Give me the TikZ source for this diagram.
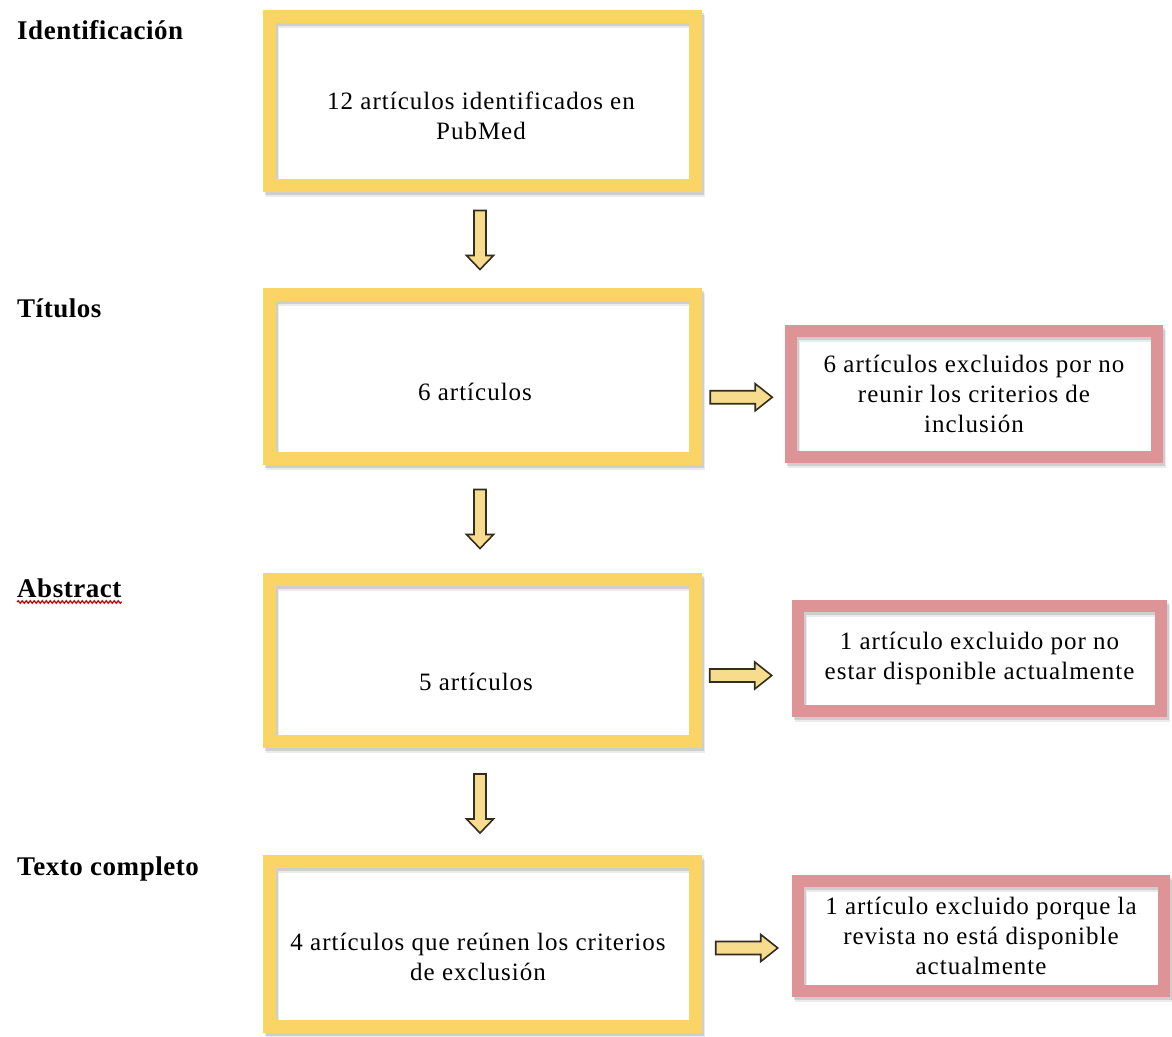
\documentclass[tikz,border=0pt]{standalone}
\usepackage{fontspec}
\setmainfont{Liberation Serif}
\newfontfamily\boxfont[LetterSpace=4]{Liberation Serif}
\newfontfamily\labfont[LetterSpace=2]{Liberation Serif}
\usetikzlibrary{calc,decorations.pathmorphing}
\definecolor{frameY}{RGB}{250,212,100}
\definecolor{frameP}{RGB}{222,148,150}
\definecolor{arrowY}{RGB}{246,220,140}
\definecolor{arrowK}{RGB}{50,45,35}
\tikzset{
 shadowed/.style={preaction={draw=black,draw opacity=0.08,line width=#1,transform canvas={shift={(3pt,-5pt)}}},
                  preaction={draw=black,draw opacity=0.12,line width=#1,transform canvas={shift={(1.5pt,-2.5pt)}}}},
 ybox/.style={draw=frameY,line width=13pt,shadowed=13pt,minimum width=426pt,inner sep=0pt,outer sep=0pt},
 pbox/.style={draw=frameP,line width=12pt,shadowed=12pt,inner sep=0pt,outer sep=0pt,font=\boxfont\fontsize{25}{30}\selectfont,align=center},
 btext/.style={font=\boxfont\fontsize{25}{30}\selectfont,align=center,inner sep=0pt},
 lab/.style={font=\labfont\bfseries\fontsize{27}{32}\selectfont,anchor=base west,inner sep=0pt},
 blockarr/.style={draw=arrowK,line width=1.6pt,fill=arrowY,line join=miter},
 wavy/.style={draw=red!80!black,line width=1.2pt,decorate,decoration={snake,amplitude=1.3pt,segment length=4pt}}
}
\newcommand\blkdown[1]{\draw[blockarr] ($(#1)+(-6,-29.5)$) -- ($(#1)+(6,-29.5)$) -- ($(#1)+(6,15.5)$) -- ($(#1)+(13.5,15.5)$) -- ($(#1)+(0,29.5)$) -- ($(#1)+(-13.5,15.5)$) -- ($(#1)+(-6,15.5)$) -- cycle;}
\newcommand\blkright[1]{\draw[blockarr] ($(#1)+(-31,-6.5)$) -- ($(#1)+(14,-6.5)$) -- ($(#1)+(14,-13.5)$) -- ($(#1)+(31,0)$) -- ($(#1)+(14,13.5)$) -- ($(#1)+(14,6.5)$) -- ($(#1)+(-31,6.5)$) -- cycle;}
\begin{document}
\begin{tikzpicture}[x=1pt,y=-1pt]
\useasboundingbox (0,0) rectangle (1172,1036);
\fill[white] (0,0) rectangle (1172,1036);
% main yellow frames
\node[ybox,minimum height=169pt] (b1) at (482.5,101) {};
\node[ybox,minimum height=164pt] (b2) at (482.5,376.5) {};
\node[ybox,minimum height=162pt] (b3) at (482.5,660.5) {};
\node[ybox,minimum height=165pt] (b4) at (482.5,944) {};
% texts in yellow frames
\node[btext] (t1) at (481,116) {12 artículos identificados en\\PubMed};
\node[btext,anchor=base] (t2) at (475,400) {6 artículos};
\node[btext,anchor=base] (t3) at (476,690) {5 artículos};
\node[btext] (t4) at (478,957) {4 artículos que reúnen los criterios\\de exclusión};
% pink exclusion frames
\node[pbox,minimum width=366pt,minimum height=126pt] (pA) at (974,394) {6 artículos excluidos por no\\reunir los criterios de\\inclusión};
\node[pbox,minimum width=363pt,minimum height=105pt] (pB) at (979.5,658.5) {1 artículo excluido por no\\estar disponible actualmente};
\node[pbox,minimum width=366pt,minimum height=110pt] (pC) at (981,936) {1 artículo excluido porque la\\revista no está disponible\\actualmente};
% stage labels
\node[lab] (l1) at (17,39) {Identificación};
\node[lab] (l2) at (17,317) {Títulos};
\node[lab] (l3) at (17,597) {Abstract};
\node[lab] (l4) at (17,875) {Texto completo};
\draw[wavy] ([yshift=-5pt]l3.base west) -- ([yshift=-5pt]l3.base east);
% block arrows
\coordinate (d1) at ($(b1.south)!0.5!(b2.north)+(-2.5,0)$);
\coordinate (d2) at ($(b2.south)!0.5!(b3.north)+(-2.5,0)$);
\coordinate (d3) at ($(b3.south)!0.5!(b4.north)+(-2.5,2)$);
\coordinate (r1) at ($(b2.east)!0.5!(pA.west)+(-2,12)$);
\coordinate (r2) at ($(b3.east)!0.5!(pB.west)+(-6,16)$);
\coordinate (r3) at ($(b4.east)!0.5!(pC.west)+(0,8)$);
\blkdown{d1}
\blkdown{d2}
\blkdown{d3}
\blkright{r1}
\blkright{r2}
\blkright{r3}
\end{tikzpicture}
\end{document}
